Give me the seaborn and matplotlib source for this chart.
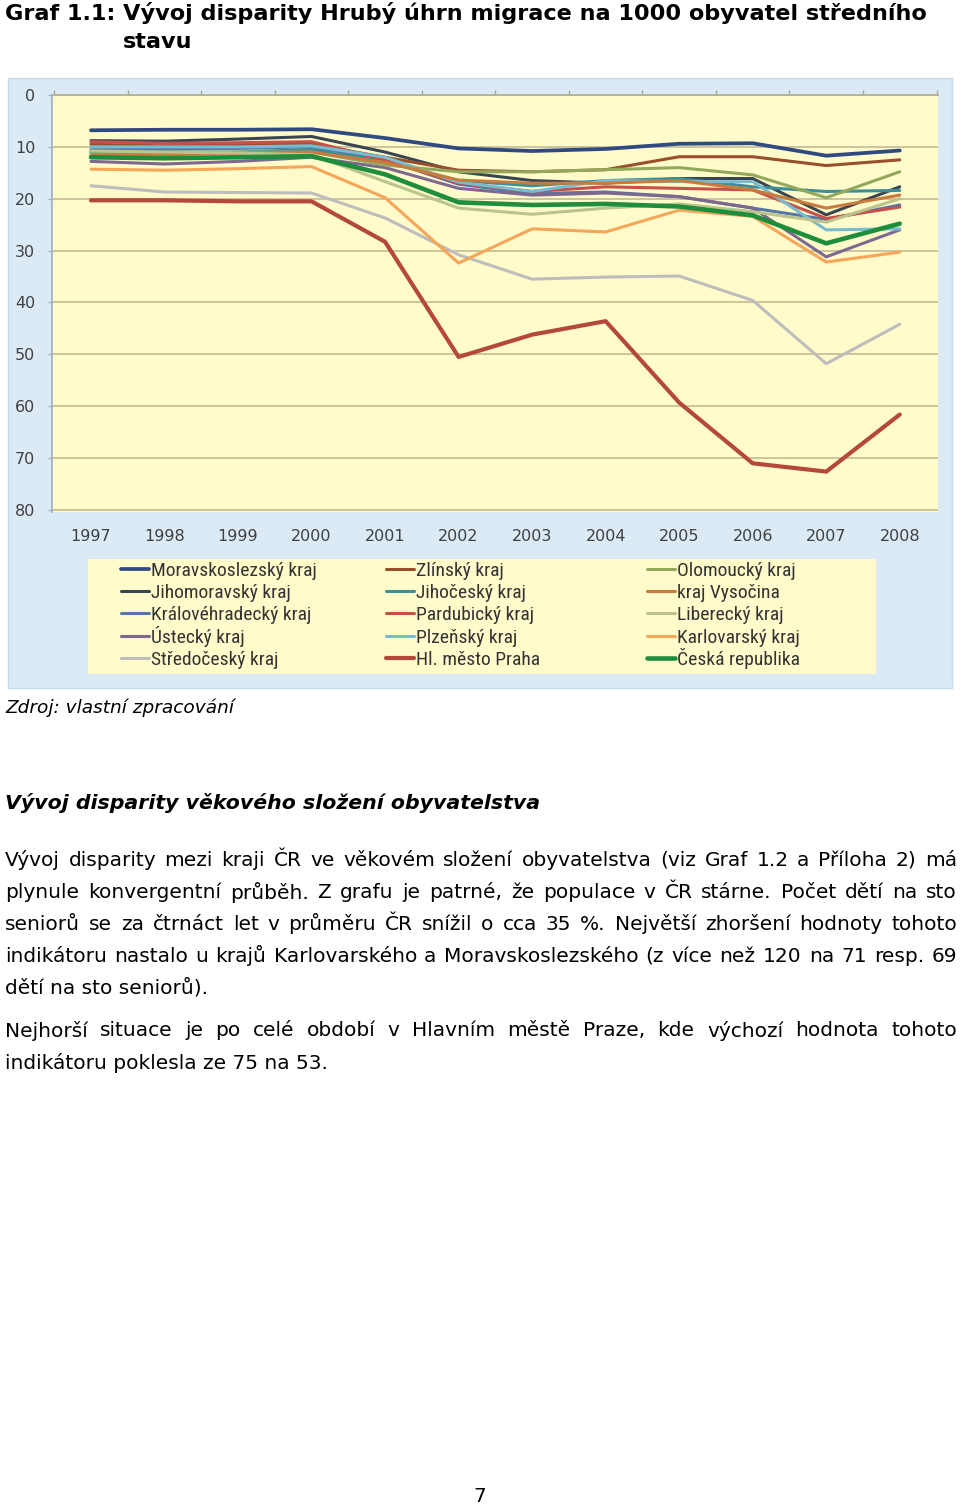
import numpy as np
import pandas as pd
import matplotlib
matplotlib.use("Agg")
import matplotlib.pyplot as plt
import seaborn as sns
from matplotlib.patches import Rectangle
from matplotlib import font_manager

# ---------------- data ----------------
years = [1997, 1998, 1999, 2000, 2001, 2002, 2003, 2004, 2005, 2006, 2007, 2008]
year_labels = [str(y) for y in years]

moravskoslezsky = [6.8, 6.7, 6.7, 6.6, 8.3, 10.3, 10.8, 10.4, 9.4, 9.3, 11.7, 10.7]
jihomoravsky    = [8.8, 8.9, 8.5, 8.0, 11.0, 14.8, 16.5, 17.0, 16.1, 16.1, 23.1, 17.7]
kralovehradecky = [10.5, 10.5, 10.3, 10.0, 12.5, 17.2, 19.0, 18.7, 19.6, 21.8, 24.0, 21.2]
ustecky         = [12.8, 13.3, 12.8, 12.0, 14.0, 18.0, 19.3, 18.9, 19.6, 21.8, 31.2, 26.0]
stredocesky     = [17.5, 18.7, 18.8, 18.9, 23.7, 30.8, 35.5, 35.1, 34.9, 39.6, 51.8, 44.2]
zlinsky         = [9.5, 9.8, 9.6, 9.5, 12.0, 14.5, 14.8, 14.4, 11.9, 11.9, 13.6, 12.5]
jihocesky       = [11.0, 11.2, 11.0, 10.5, 12.8, 16.5, 17.5, 16.5, 16.1, 17.7, 18.6, 18.4]
pardubicky      = [9.0, 9.3, 9.2, 9.0, 12.5, 17.0, 18.6, 17.7, 18.0, 18.3, 23.8, 21.6]
plzensky        = [10.0, 10.0, 10.0, 9.8, 12.0, 16.8, 18.6, 16.5, 16.7, 16.7, 26.0, 25.8]
praha           = [20.3, 20.3, 20.5, 20.5, 28.3, 50.5, 46.2, 43.6, 59.3, 71.0, 72.6, 61.6]
olomoucky       = [10.8, 11.0, 11.0, 11.0, 13.5, 14.8, 14.8, 14.4, 14.0, 15.4, 19.8, 14.8]
vysocina        = [11.5, 11.5, 11.3, 11.0, 13.0, 16.4, 17.0, 17.0, 16.5, 18.3, 21.8, 19.3]
liberecky       = [10.8, 11.0, 11.2, 11.5, 16.7, 21.8, 23.0, 21.8, 21.0, 22.5, 24.5, 20.0]
karlovarsky     = [14.3, 14.5, 14.2, 13.8, 19.8, 32.4, 25.8, 26.4, 22.2, 23.4, 32.2, 30.3]
ceska_republika = [12.0, 12.2, 12.0, 11.8, 15.3, 20.7, 21.2, 21.0, 21.5, 23.2, 28.6, 24.8]

region_names = [
    "Moravskoslezský kraj", "Jihomoravský kraj", "Královéhradecký kraj", "Ústecký kraj", "Středočeský kraj",
    "Zlínský kraj", "Jihočeský kraj", "Pardubický kraj", "Plzeňský kraj", "Hl. město Praha",
    "Olomoucký kraj", "kraj Vysočina", "Liberecký kraj", "Karlovarský kraj", "Česká republika",
]
region_values = [
    moravskoslezsky, jihomoravsky, kralovehradecky, ustecky, stredocesky,
    zlinsky, jihocesky, pardubicky, plzensky, praha,
    olomoucky, vysocina, liberecky, karlovarsky, ceska_republika,
]
region_colors = [
    "#2F4A80", "#3A4552", "#5577AA", "#7D6890", "#BDBDBD",
    "#9A4F2C", "#3C8E98", "#C8504A", "#79BCD2", "#B4493A",
    "#94A85C", "#C97B3E", "#BAC48C", "#F5A658", "#1E8E3C",
]
region_widths = [2.7, 2.2, 2.2, 2.2, 2.2,
                 2.2, 2.2, 2.2, 2.2, 3.0,
                 2.2, 2.2, 2.2, 2.2, 3.3]

title_line1 = "Graf 1.1: Vývoj disparity Hrubý úhrn migrace na 1000 obyvatel středního"
title_line2 = "stavu"
source_text = "Zdroj: vlastní zpracování"
heading_text = "Vývoj disparity věkového složení obyvatelstva"
body_lines = [
    ("Vývoj disparity mezi kraji ČR ve věkovém složení obyvatelstva (viz Graf 1.2 a Příloha 2) má", True),
    ("plynule konvergentní průběh. Z grafu je patrné, že populace v ČR stárne. Počet dětí na sto", True),
    ("seniorů se za čtrnáct let v průměru ČR snížil o cca 35 %. Největší zhoršení hodnoty tohoto", True),
    ("indikátoru nastalo u krajů Karlovarského a Moravskoslezského (z více než 120 na 71 resp. 69", True),
    ("dětí na sto seniorů).", False),
    ("Nejhorší situace je po celé období v Hlavním městě Praze, kde výchozí hodnota tohoto", True),
    ("indikátoru poklesla ze 75 na 53.", False),
]
page_number = "7"

# ---------------- setup ----------------
sns.set_theme(style="white")
plt.rcParams["font.family"] = ["DejaVu Sans"]

W, H = 960, 1508
fig = plt.figure(figsize=(W / 100, H / 100), dpi=100)
fig.patch.set_facecolor("white")
renderer = fig.canvas.get_renderer()


def fx(x):
    return x / W


def fy(y):
    return 1 - y / H


def extent(s, **kw):
    t = fig.text(0, 0, s, **kw)
    bb = t.get_window_extent(renderer)
    t.remove()
    return bb


def measure(s, **kw):
    return extent(s, **kw).width


def fit_size(s, target, **kw):
    base = 12.0
    return base * target / measure(s, fontsize=base, **kw)


# chart panel (light blue) and legend box (yellow)
fig.patches.append(Rectangle((fx(8), fy(688)), (952 - 8) / W, (688 - 78) / H,
                             transform=fig.transFigure, facecolor="#DCEAF6",
                             edgecolor="#C8DAE8", lw=1.0, zorder=-2))
fig.patches.append(Rectangle((fx(88), fy(674)), (876 - 88) / W, (674 - 559) / H,
                             transform=fig.transFigure, facecolor="#FFFBCB",
                             edgecolor="none", zorder=-1))

# plot axes
ax = fig.add_axes([fx(52), fy(512), (938 - 52) / W, (512 - 95) / H])
ax.set_zorder(2)
ax.set_facecolor("#FFFBCB")
xs = np.arange(len(years))

handles = []
for name, vals, col, lw in zip(region_names, region_values, region_colors, region_widths):
    df = pd.DataFrame({"x": xs, "v": vals})
    sns.lineplot(data=df, x="x", y="v", ax=ax, color=col, linewidth=lw, legend=False)
    handles.append(ax.lines[-1])

ax.set_xlim(-0.53, 11.52)
ax.set_ylim(80.39, 0)
ax.set_xlabel("")
ax.set_ylabel("")
ax.set_xticks(xs)
ax.set_xticklabels(year_labels)
ax.set_xticks(np.arange(-0.5, 12, 1.0), minor=True)
ax.tick_params(axis="x", which="major", bottom=False, top=False, length=0, pad=12,
               labelsize=11.5, labelcolor="#404040")
ax.tick_params(axis="x", which="minor", top=True, bottom=False, direction="out",
               length=3.5, width=1, color="#A8A890")
ax.set_yticks(range(0, 81, 10))
ax.tick_params(axis="y", which="major", left=True, direction="out", length=3, width=1,
               color="#9DB0BE", pad=9, labelsize=11.5, labelcolor="#404040")
ax.grid(axis="y", color="#CCC49C", linewidth=1.4)
ax.grid(axis="x", visible=False)
ax.set_axisbelow(True)
for side in ["right", "bottom"]:
    ax.spines[side].set_visible(False)
ax.spines["top"].set_color("#B0AE98")
ax.spines["top"].set_linewidth(1.2)
ax.spines["left"].set_color("#9DB0BE")
ax.spines["left"].set_linewidth(1.2)

# legend font
legend_family = "DejaVu Sans"
for cand in ["Liberation Sans Narrow", "Roboto Condensed", "Open Sans Condensed"]:
    try:
        font_manager.findfont(font_manager.FontProperties(family=cand), fallback_to_default=False)
        legend_family = cand
        break
    except Exception:
        pass
leg_size = 14.0 if legend_family != "DejaVu Sans" else 11

col_x = [121, 386, 647]
row_y = [571, 593, 615, 638, 660]
h_ref = extent("Mlpý", family=legend_family, fontsize=leg_size).height
for i, (h, name) in enumerate(zip(handles, region_names)):
    c, r = divmod(i, 5)
    d = extent(name, family=legend_family, fontsize=leg_size).height - h_ref
    yy = row_y[r] - max(d, 0) / 2
    leg = fig.legend([h], [name], loc="center left",
                     bbox_to_anchor=(fx(col_x[c]), fy(yy)),
                     frameon=False, borderpad=0, borderaxespad=0,
                     handlelength=1.45, handletextpad=0.1,
                     prop={"family": legend_family, "size": leg_size})
    for t in leg.get_texts():
        t.set_color("#333333")

# ---------------- page texts ----------------
ts = fit_size(title_line1, 920, fontweight="bold")
fig.text(fx(5), fy(13), title_line1, fontsize=ts, fontweight="bold", ha="left", va="center", color="black")
fig.text(fx(123), fy(42), title_line2, fontsize=ts, fontweight="bold", ha="left", va="center", color="black")

ss = fit_size(source_text, 228, style="italic")
fig.text(fx(5), fy(708), source_text, fontsize=ss, style="italic", ha="left", va="center", color="black")

hs = fit_size(heading_text, 533, style="italic", fontweight="bold")
fig.text(fx(5), fy(803), heading_text, fontsize=hs, style="italic", fontweight="bold",
         ha="left", va="center", color="black")

bs = fit_size(body_lines[6][0], 322)
body_y = [860, 892, 924, 956, 988, 1031, 1063]
x0, x1 = 5, 957
for (line, justify), yy in zip(body_lines, body_y):
    if not justify:
        fig.text(fx(x0), fy(yy), line, fontsize=bs, ha="left", va="center", color="black")
        continue
    words = line.split(" ")
    widths = [measure(w, fontsize=bs) for w in words]
    gap = (x1 - x0 - sum(widths)) / (len(words) - 1)
    xc = x0
    for w, wd in zip(words, widths):
        fig.text(fx(xc), fy(yy), w, fontsize=bs, ha="left", va="center", color="black")
        xc += wd + gap

fig.text(fx(480), fy(1497), page_number, fontsize=bs, ha="center", va="center", color="black")

fig.savefig("out.png", dpi=100, facecolor="white")
